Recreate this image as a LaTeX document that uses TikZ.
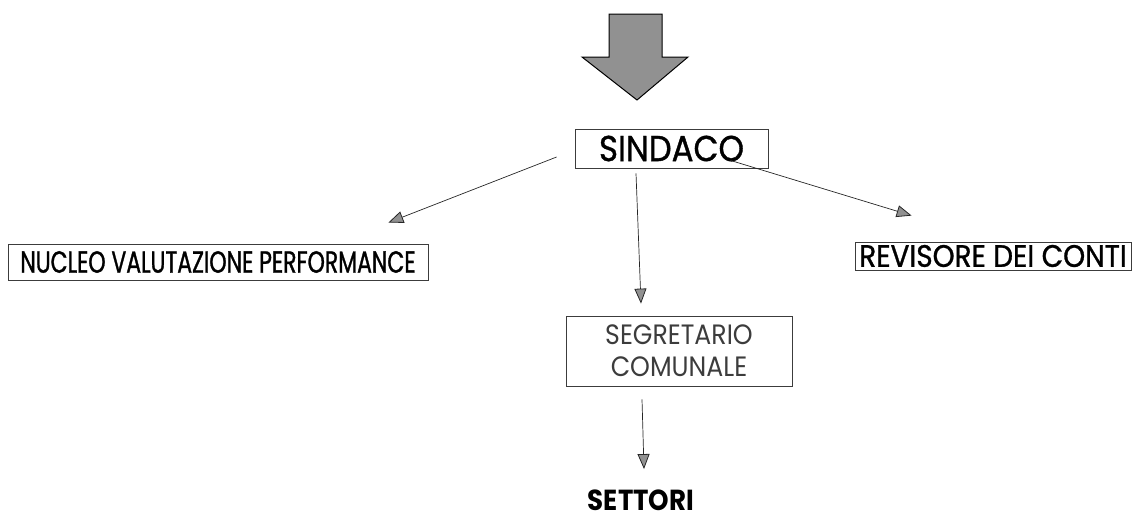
\documentclass[tikz,border=0pt]{standalone}
\usepackage{fontspec}
\setmainfont{Poppins}[FakeStretch=0.72, FakeBold=1]
\newfontfamily\widefont{Poppins}[FakeStretch=0.9, FakeBold=1]
\newfontfamily\lightfont{Poppins}[FakeStretch=0.9]
\usetikzlibrary{arrows.meta, positioning}
\definecolor{linegray}{RGB}{60,60,60}
\definecolor{headgray}{RGB}{145,145,145}
\definecolor{textgray}{RGB}{60,60,60}

\begin{document}
\begin{tikzpicture}[x=1pt, y=-1pt,
  orgbox/.style={draw=linegray, line width=0.8pt, inner sep=0pt, align=center},
  link/.style={draw=black!85, line width=0.7pt,
    -{Triangle[length=15pt, width=12pt, fill=headgray, line width=0.8pt]}}]
  \useasboundingbox (0,0) rectangle (1134,531);

  % big arrow on top
  \draw[fill=headgray, draw=black, line width=1pt]
    (609,14) -- (662,14) -- (662,57) -- (688,57) -- (637,100)
    -- (582,57) -- (609,57) -- cycle;

  % boxes
  \node[orgbox, minimum width=193pt, minimum height=39pt,
    font=\widefont\fontsize{36}{40}\selectfont] (sindaco) at (671.5,148.5) {SINDACO};
  \node[orgbox, minimum width=420pt, minimum height=36pt,
    font=\fontsize{30.5}{34}\selectfont] (nucleo) at (218,262)
    {NUCLEO VALUTAZIONE PERFORMANCE};
  \node[orgbox, minimum width=276pt, minimum height=28pt,
    font=\widefont\fontsize{31}{34}\selectfont] (revisore) at (993,256)
    {REVISORE DEI CONTI};
  \node[orgbox, minimum width=226pt, minimum height=70pt, text=textgray,
    font=\lightfont\fontsize{28}{32}\selectfont] (segretario) at (679,351)
    {SEGRETARIO\\COMUNALE};
  \node[font=\lightfont\bfseries\fontsize{29}{32}\selectfont] (settori) at (641,500) {SETTORI};

  % connectors
  \draw[link] ([xshift=-18pt, yshift=-8.5pt]sindaco.west)
    -- ([xshift=-40pt, yshift=21pt]nucleo.north east);
  \draw[link] ([xshift=-38pt, yshift=8pt]sindaco.south east)
    -- ([xshift=57pt, yshift=26pt]revisore.north west);
  \draw[link] ([xshift=-35.5pt, yshift=-5pt]sindaco.south)
    -- ([xshift=-38pt, yshift=12pt]segretario.north);
  \draw[link] ([xshift=-37pt, yshift=-13pt]segretario.south)
    -- ([xshift=3pt, yshift=17pt]settori.north);
\end{tikzpicture}
\end{document}
